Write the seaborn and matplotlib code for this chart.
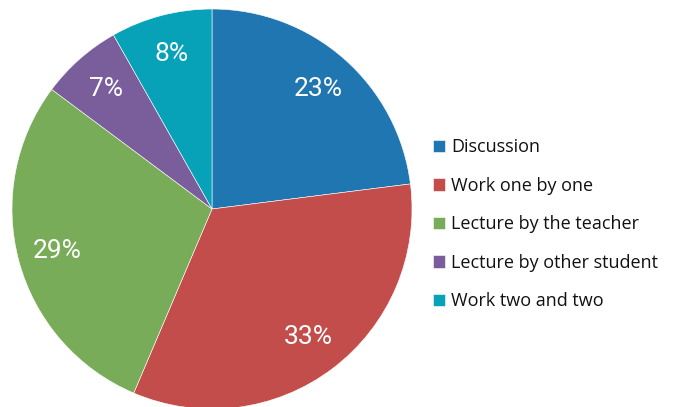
import matplotlib
matplotlib.use("Agg")
import matplotlib.pyplot as plt
import seaborn as sns

# data
categories = ["Discussion", "Work one by one", "Lecture by the teacher",
              "Lecture by other student", "Work two and two"]
shares = [23.0, 33.4, 28.8, 6.6, 8.2]
slice_colors = ["#1F76B0", "#C34D4B", "#78AC58", "#7A5E9C", "#07A2B8"]

sns.set_theme(style="white")
plt.rcParams['font.family'] = ['Open Sans', 'DejaVu Sans']

fig = plt.figure(figsize=(6.79, 4.07), dpi=100)
ax = fig.add_axes([12 / 679, -2 / 407, 400 / 679, 400 / 407])

pal = sns.color_palette(slice_colors)
wedges, texts, autotexts = ax.pie(
    shares, colors=pal, startangle=90, counterclock=False,
    autopct="%.0f%%", pctdistance=0.8, radius=1,
    wedgeprops={"edgecolor": "white", "linewidth": 0.4},
    textprops={"color": "white", "fontsize": 19, "family": ["Roboto", "DejaVu Sans"]},
)
ax.set_xlim(-1, 1)
ax.set_ylim(-1, 1)
ax.set_aspect("equal")
ax.axis("off")

fig.legend(wedges, categories, loc="center left",
           bbox_to_anchor=(0.624, 0.449), frameon=False,
           fontsize=13, handlelength=0.68, handleheight=0.68,
           handletextpad=0.35, labelspacing=1.14, borderpad=0,
           labelcolor="#111111")

fig.savefig("out.png", dpi=100)
